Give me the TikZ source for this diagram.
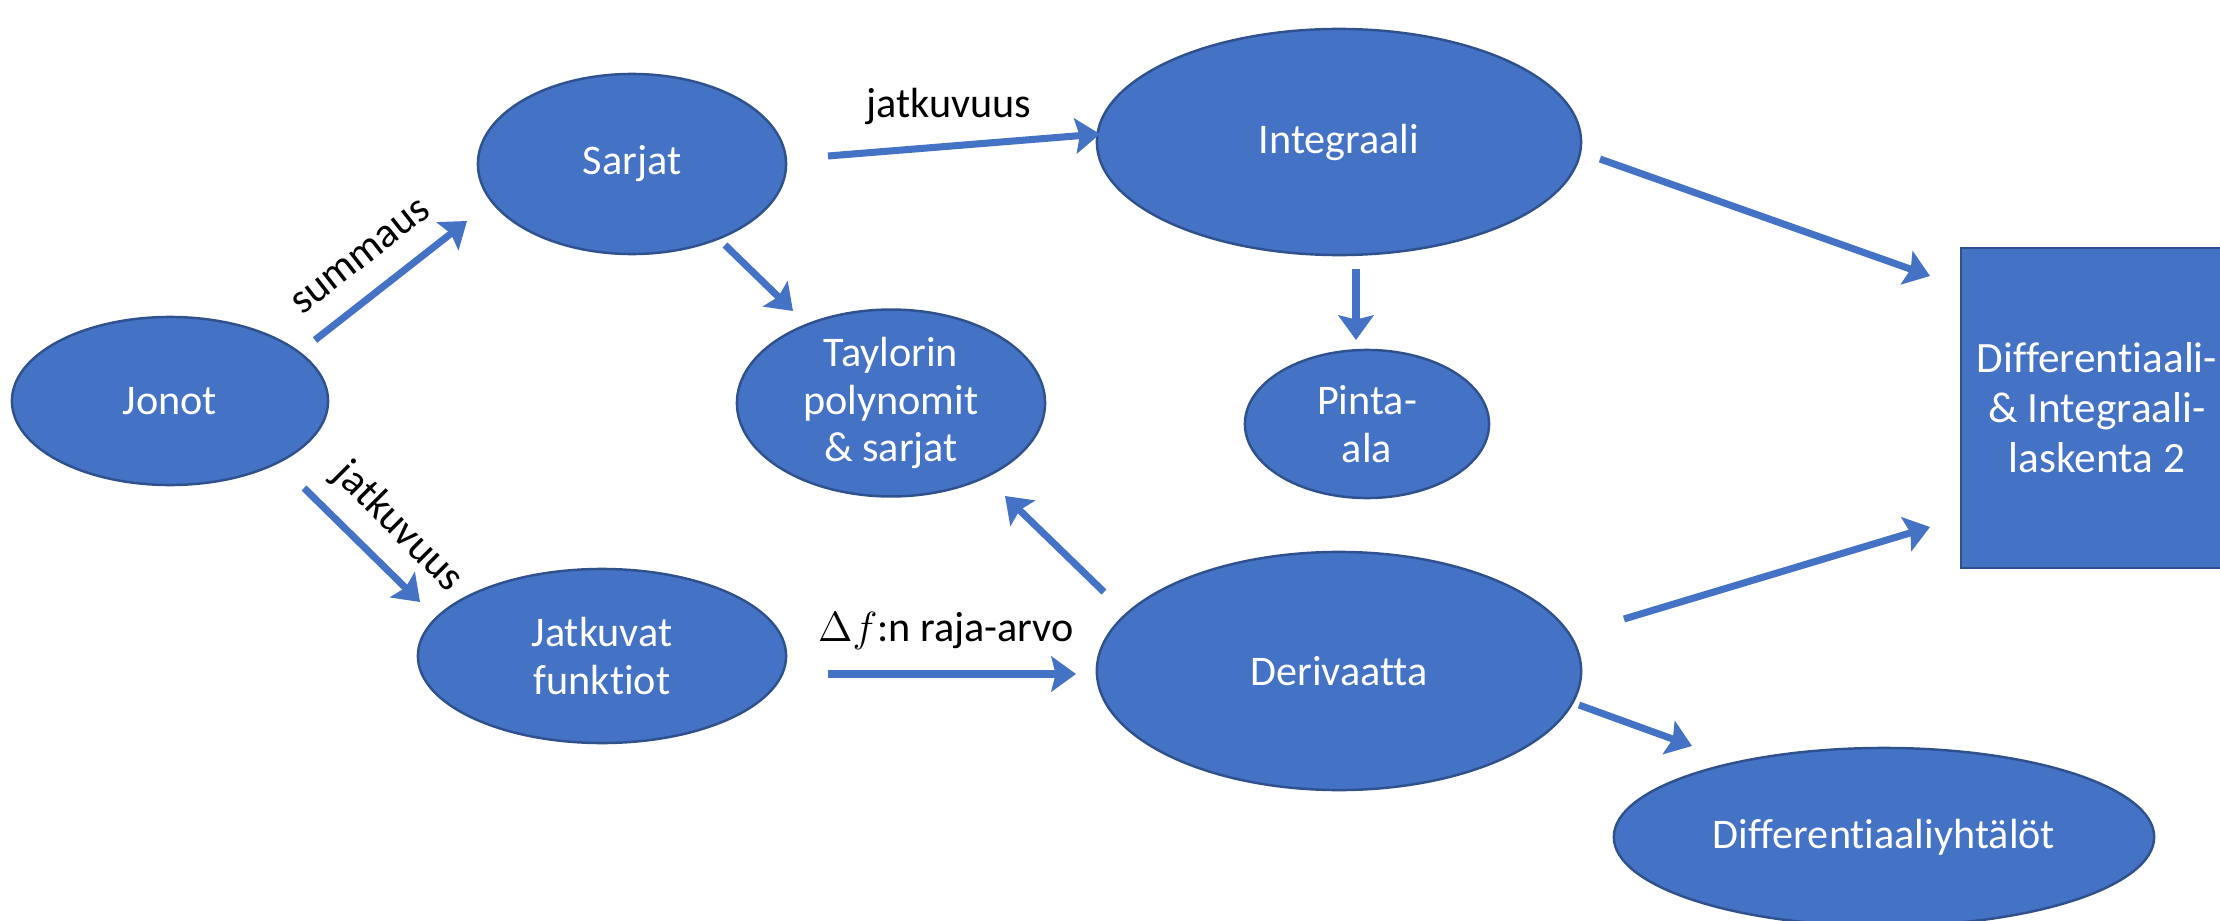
\documentclass[tikz,border=0pt]{standalone}
\usepackage{fontspec}
\setmainfont{Carlito}[Ligatures=NoCommon]
\usetikzlibrary{arrows.meta,calc,shapes.geometric}
\definecolor{fillblue}{HTML}{4472C4}
\definecolor{edgeblue}{HTML}{2F528F}
\tikzset{
  topic/.style={ellipse,fill=fillblue,draw=edgeblue,line width=0.7pt,inner sep=0pt,
    text=white,align=center,font=\fontsize{12}{13.6}\selectfont},
  course/.style={rectangle,fill=fillblue,draw=edgeblue,line width=0.7pt,inner sep=0pt,
    text=white,align=center,font=\fontsize{12.3}{14.2}\selectfont},
  link/.style={draw=fillblue,line width=2pt,-{Stealth[length=7pt,width=10pt,inset=1.2pt]}},
  lbl/.style={font=\fontsize{12}{14}\selectfont,text=black,inner sep=0pt}
}
\begin{document}
\begin{tikzpicture}[x=0.01cm,y=-0.01cm]
\useasboundingbox (0,0) rectangle (2220,921);
\begin{scope}
\clip (0,0) rectangle (2220,921);
\node[topic,minimum width=3.16cm,minimum height=1.68cm] (jonot) at (170,401) {Jonot};
\node[topic,minimum width=3.08cm,minimum height=1.80cm] (sarjat) at (632,164) {Sarjat};
\node[topic,minimum width=4.84cm,minimum height=2.26cm] (integ) at (1339,142) {Integraali};
\node[topic,minimum width=3.08cm,minimum height=1.78cm] (taylor) at (891,403) {Taylorin\\polynomit\\\& sarjat};
\node[topic,minimum width=2.44cm,minimum height=1.48cm] (pinta) at (1367,424) {Pinta-\\ala};
\node[topic,minimum width=3.68cm,minimum height=1.74cm] (jatk) at (602,656) {Jatkuvat\\funktiot};
\node[topic,minimum width=4.84cm,minimum height=2.38cm] (deriv) at (1339,671) {Derivaatta};
\node[topic,minimum width=5.40cm,minimum height=1.78cm] (dy) at (1884,837) {Differentiaaliyhtälöt};
\node[course,minimum width=2.72cm,minimum height=3.20cm] (di2) at (2097,408) {Differentiaali-\\\& Integraali-\\laskenta 2};
\end{scope}

\draw[link] ($(jonot)+(145,-61)$) -- ($(sarjat)+(-165,57)$);
\draw[link] ($(jonot)+(134,87)$) -- ($(jatk)+(-182,-54)$);
\draw[link] ($(sarjat)+(196,-8)$) -- ($(integ)+(-239,-8)$);
\draw[link] ($(sarjat)+(93,81)$) -- ($(taylor)+(-98,-92)$);
\draw[link] ($(integ)+(17,127)$) -- ($(pinta)+(-11,-84)$);
\draw[link] ($(integ)+(261,17)$) -- ($(di2)+(-167,-132)$);
\draw[link] ($(deriv)+(285,-52)$) -- ($(di2)+(-167,119)$);
\draw[link] ($(deriv)+(240,34)$) -- ($(dy)+(-192,-91)$);
\draw[link] ($(deriv)+(-235,-79)$) -- ($(taylor)+(114,93)$);
\draw[link] ($(jatk)+(226,18)$) -- ($(deriv)+(-263,3)$);

\node[lbl,rotate=38] (lsum) at (361,257) {summaus};
\node[lbl,rotate=-45] (ljat1) at (398,527) {jatkuvuus};
\node[lbl] (ljat2) at (949,106) {jatkuvuus};
\node[lbl] (lraja) at (946,631) {$\Delta f$:n raja-arvo};
\end{tikzpicture}
\end{document}
